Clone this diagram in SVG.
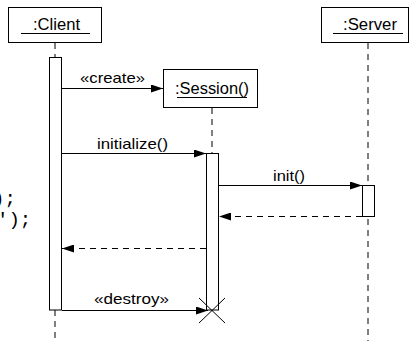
<svg xmlns="http://www.w3.org/2000/svg" width="411" height="341" viewBox="0 0 411 341">
  <style>
    .box { fill: #fff; stroke: #000; stroke-width: 1; }
    .act { fill: #fff; stroke: #000; stroke-width: 1; }
    .life { stroke: #000; stroke-width: 1; stroke-dasharray: 6 5; fill: none; }
    .msg { stroke: #000; stroke-width: 1; fill: none; }
    .ret { stroke: #000; stroke-width: 1; fill: none; stroke-dasharray: 6 5; }
    .uline { stroke: #000; stroke-width: 1; }
    .name { font-family: "Liberation Sans", Arial, sans-serif; font-size: 16px; fill: #000; }
    .lbl { font-family: "Liberation Sans", Arial, sans-serif; font-size: 14.5px; fill: #000; }
    .code { font-family: "Liberation Mono", monospace; font-size: 19px; fill: #000; }
  </style>
  <defs>
    <marker id="head" viewBox="0 0 12 8" refX="12" refY="4" markerWidth="12" markerHeight="8" markerUnits="userSpaceOnUse" orient="auto">
      <path d="M0,0 L12,4 L0,8 Z" fill="#000"/>
    </marker>
  </defs>

  <rect width="411" height="341" fill="#fff"/>

  <!-- code fragment at left margin -->
  <text class="code" x="-7" y="204">);</text>
  <text class="code" x="-3" y="225">');</text>

  <!-- lifelines -->
  <g id="lifelines">
    <line class="life" x1="55" y1="43" x2="55" y2="57"/>
    <line class="life" x1="55" y1="310" x2="55" y2="341"/>
    <line class="life" x1="212" y1="108" x2="212" y2="153"/>
    <line class="life" x1="368" y1="43" x2="368" y2="341"/>
  </g>

  <g id="client">
    <rect class="box" x="8.5" y="7.5" width="93" height="35"/>
    <text class="name" x="33" y="30" textLength="47" lengthAdjust="spacingAndGlyphs">:Client</text>
    <line class="uline" x1="21" y1="33.5" x2="90" y2="33.5"/>
    <rect class="act" x="49.5" y="57.5" width="12" height="252.5"/>
  </g>

  <g id="session">
    <rect class="box" x="163.5" y="69.5" width="94" height="38"/>
    <text class="name" x="175" y="94" textLength="74" lengthAdjust="spacingAndGlyphs">:Session()</text>
    <line class="uline" x1="177" y1="97.5" x2="247" y2="97.5"/>
    <rect class="act" x="206.5" y="153.5" width="12" height="156.5"/>
  </g>

  <g id="server">
    <rect class="box" x="321.5" y="7.5" width="87" height="35"/>
    <text class="name" x="343" y="30" textLength="54" lengthAdjust="spacingAndGlyphs">:Server</text>
    <line class="uline" x1="333" y1="33.5" x2="403" y2="33.5"/>
    <rect class="act" x="362.5" y="185.5" width="12" height="31"/>
  </g>

  <g id="connectors">
    <line class="msg" x1="62" y1="88.5" x2="163" y2="88.5" marker-end="url(#head)"/>
    <text class="lbl" x="80" y="83" textLength="65" lengthAdjust="spacingAndGlyphs">«create»</text>

    <line class="msg" x1="62" y1="153.5" x2="206" y2="153.5" marker-end="url(#head)"/>
    <text class="lbl" x="97" y="149" textLength="71" lengthAdjust="spacingAndGlyphs">initialize()</text>

    <line class="msg" x1="219" y1="185.5" x2="362" y2="185.5" marker-end="url(#head)"/>
    <text class="lbl" x="273" y="181" textLength="32" lengthAdjust="spacingAndGlyphs">init()</text>

    <line class="ret" x1="362" y1="216.5" x2="219" y2="216.5" marker-end="url(#head)"/>

    <line class="ret" x1="206" y1="248.5" x2="62" y2="248.5" marker-end="url(#head)"/>

    <line class="msg" x1="62" y1="310.5" x2="208" y2="310.5" marker-end="url(#head)"/>
    <text class="lbl" x="94" y="304" textLength="75" lengthAdjust="spacingAndGlyphs">«destroy»</text>

    <!-- destruction mark -->
    <line class="msg" x1="199" y1="298" x2="225" y2="323"/>
    <line class="msg" x1="225" y1="298" x2="199" y2="323"/>
  </g>
</svg>
